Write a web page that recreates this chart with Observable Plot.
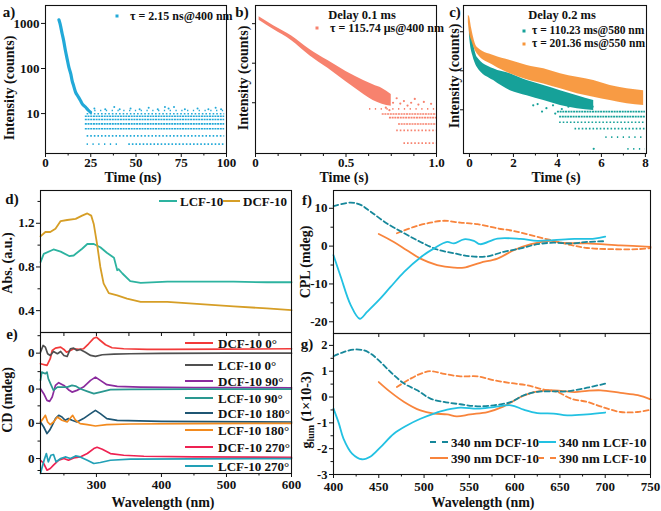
<!DOCTYPE html>
<html><head><meta charset="utf-8">
<script src="https://cdn.jsdelivr.net/npm/d3@7"></script>
<script src="https://cdn.jsdelivr.net/npm/@observablehq/plot@0.6"></script>
<style>
html,body{margin:0;padding:0;background:#fff;}
#fig{position:relative;width:661px;height:511px;overflow:hidden;font-family:"Liberation Serif","Times New Roman",serif;font-weight:bold;color:#111;background:#fff;}
.p{position:absolute;}
.p svg{overflow:visible;background:transparent;}
.t{position:absolute;white-space:nowrap;line-height:1;transform:translate(-50%,-50%);font-size:14px;}
.l{position:absolute;white-space:nowrap;line-height:1;transform:translate(0,-50%);font-size:13px;}
.r{transform:translate(-50%,-50%) rotate(-90deg);}
.sw{position:absolute;height:0;transform:translate(0,-50%);}
.dt{position:absolute;width:3px;height:3px;transform:translate(-50%,-50%);}
</style></head><body><div id="fig"></div><script>
// ---------- data: panel a ----------
const aDecayTime = [7.4, 8.0, 9.2, 10.0, 11.0, 12.0, 12.9, 14.0, 14.7, 15.5, 16.6, 18.0, 19.3, 20.5, 22.1, 23.5, 24.9];
const aDecayCounts = [1200, 1000, 590, 420, 250, 160, 107, 75, 54, 42, 30, 24, 19.5, 16, 14, 12, 10.7];
const aRowLevel = [11.7, 9.9, 8.7, 7.4, 5.9, 4.6, 3.2, 2.1, 2.1];
const aRowFrom = [24, 23, 22, 22, 22, 22, 23, 23, 46];
const aRowTo = [99, 99, 99, 99, 99, 99, 99, 42, 99];
const aRowDensity = ["sparse", "medium", "dense", "dense", "dense", "dense", "medium", "sparse", "medium"];
const aSparseTime = [27, 33, 38, 41, 47, 52, 57, 62, 66, 68, 71, 77, 84, 90, 94, 97];
const aSparseCounts = [13, 12.5, 14, 12.5, 13, 12.5, 13.5, 12.5, 14, 13, 14, 12.5, 13, 12.5, 13.5, 12.5];
// ---------- panel b ----------
const bBandTime = [0.02, 0.10, 0.20, 0.30, 0.40, 0.50, 0.60, 0.65, 0.70, 0.75];
const bBandLow = [1227, 710, 371, 155, 74, 34, 16, 11.4, 9.2, 8.2];
const bBandHigh = [1485, 890, 491, 223, 117, 62, 36, 28.4, 22.9, 16.2];
const bRowLevel = [7, 5.2, 4.2, 2.9, 2.0, 0.95];
const bRowFrom = [0.63, 0.70, 0.74, 0.79, 0.78, 0.82];
const bRowTo = [1.0, 1.0, 1.0, 1.0, 1.0, 1.0];
const bRowDensity = ["sparse", "dense", "dense", "dense", "medium", "medium"];
const bSparseTime = [0.76, 0.78, 0.80, 0.82, 0.84, 0.86, 0.88, 0.90, 0.93, 0.97, 0.72, 0.74];
const bSparseCounts = [10, 13, 9.5, 11, 8.5, 10, 12.5, 9, 10.5, 9.4, 7.5, 6.5];
// ---------- panel c ----------
const cOrangeTime = [-0.05, 0.0, 0.1, 0.35, 1.1, 1.86, 2.62, 3.38, 4.14, 4.9, 5.65, 6.4, 7.17, 7.92];
const cOrangeHigh = [2620, 2470, 1216, 403, 247, 184, 137, 112, 84, 68, 56, 42, 34.5, 31];
const cOrangeLow = [1730, 960, 598, 273, 137, 84, 59, 46, 34.5, 25.7, 21, 17.3, 14.3, 12.9];
const cTealTime = [0.0, 0.05, 0.15, 0.35, 1.1, 1.86, 2.62, 3.38, 4.14, 4.9, 5.65];
const cTealHigh = [1450, 1080, 598, 223, 112, 84, 56, 42, 31, 23, 17.3];
const cTealLow = [803, 445, 247, 124, 56, 31, 23, 17.3, 12.9, 10.6, 9.6];
const cRowLevel = [9, 6.7, 4.8, 3.3, 2.0, 1.0];
const cRowFrom = [4.0, 4.1, 4.1, 4.8, 6.2, 7.2];
const cRowTo = [8.0, 8.0, 8.0, 8.0, 8.0, 8.0];
const cRowDensity = ["dense", "dense", "medium", "medium", "sparse", "sparse"];
const cSparseTime = [3.1, 3.5, 3.8, 4.2, 4.5, 3.3, 5.6, 5.65, 2.9, 3.9];
const cSparseCounts = [14, 11, 13, 10.5, 12, 9, 12, 1, 13, 8];
// ---------- panel d ----------
const dDcfWave = [214, 221.5, 229, 237, 245, 255, 268, 278, 286, 292, 296, 301, 306, 311, 319, 332, 347, 368, 409, 460, 511, 562, 600];
const dDcfAbs = [1.08, 1.12, 1.12, 1.15, 1.22, 1.23, 1.24, 1.27, 1.29, 1.27, 1.19, 1.01, 0.80, 0.65, 0.56, 0.54, 0.51, 0.48, 0.48, 0.46, 0.44, 0.42, 0.405];
const dLcfWave = [214, 219, 234, 245, 258, 265, 278, 286, 296, 306, 316, 327, 332, 334, 340, 352, 368, 409, 511, 562, 600];
const dLcfAbs = [0.845, 0.92, 0.96, 0.94, 0.90, 0.905, 0.967, 1.01, 1.01, 0.98, 0.93, 0.885, 0.77, 0.78, 0.74, 0.67, 0.655, 0.665, 0.665, 0.66, 0.66];
// ---------- panel e ----------
const eOffsets = [0, -36, -70.3, -105.6];
const eNames = ["DCF-10 0°", "LCF-10 0°", "DCF-10 90°", "LCF-10 90°", "DCF-10 180°", "LCF-10 180°", "DCF-10 270°", "LCF-10 270°"];
const eColors = ["#f23a3a", "#505050", "#8b2c9e", "#2a9890", "#1f5673", "#f28a1e", "#ee2252", "#22a0b6"];
const eWaves = [
  [214,224,229,232,237,245,250,254,260,265,273,280,288,296,300,306,314,324,342,378,409,500,600],
  [214,218,221.5,225,229,234,240,245,250,255,260,265,270,275,283,291,298.5,309,327,352,400,500,600],
  [214,219,224,228,232,237,242,250,257,262.5,270,280,291,298.5,306,316,332,368,450,600],
  [214,216,221.5,224,226,230,234,240,247,255,262.5,268,275,286,296,306,321.5,352,450,600],
  [214,219,224,228,232,237,242,247,252,257,262.5,270,280,291,298.5,306,316,332,400,600],
  [214,218,221.5,225,229,234,240,247,255,260,263.5,268,275,286,298.5,316,352,450,600],
  [214,219,224,229,234,242,250,257,265,275,286,296,301,309,321.5,342,373,450,600],
  [214,216,219.5,223,226,230,234,238,245,252,260,268,275,286,296,306,321.5,352,450,600]
];
const eCD = [
  [-10.6,-12.3,-5.6,2.7,5,6,3.7,1,2.7,4.4,3.7,4.4,9.4,15,16,12.7,8.4,5.4,4.4,3.7,3.7,4.0,4.4],
  [1,7.7,6,-0.6,-2.3,1.7,-0.6,1.7,-2.3,-3.3,4.4,5,2.7,3.7,1,-2.3,-3.3,-1.6,-1,-0.6,-0.3,0,0],
  [0.4,-4.6,-11.3,-12.3,-8,3.7,6.4,3.7,-0.6,-3,-1.3,2,8.7,12,8.7,4.4,2.7,2,1.5,1.3],
  [8.7,17,15.4,17,10.4,4.4,-1.3,2,2,2,3.7,3,0.4,-2.3,-4.6,-3,-0.6,-0.3,0,0],
  [1.3,-3.7,-10.3,-7,-2,4.7,8,6.3,3,4.7,3,1.3,4.7,9.7,13,9.7,4.7,3,2,1.3],
  [1.3,4.7,8,1.3,-1.3,1.3,6.3,3,1.3,5.3,8,3,-0.3,-1.3,-2.7,-1.3,-0.7,-0.3,0],
  [-1.7,-5,-11.7,-10,-6.7,-1.7,0,-1.7,0.6,1.6,5,10,11.3,9.3,5,3.3,2.3,1.6,1.3],
  [-15,-10,-1.7,5,-3.4,3.3,4,-3.4,0,1.6,0,2.6,1.6,-1.7,-5,-4,-1.7,-0.6,-0.3,0]
];
// ---------- panel f ----------
const fDcf340Wave = [400,419,430,441,459,478,496,514.5,533,551,570,588,606.5,625,643,662,680,700];
const fDcf340CPL = [10.6,11.5,10.9,9.1,6,3.4,1.1,-0.9,-1.9,-2.7,-2.7,-1.5,-0.6,0.5,0.9,0.7,1.1,1.3];
const fLcf340Wave = [400,408,419,429,437,450,463,478,496,511,525.5,533,544,555,562,581,606.5,625,643,666,688,700];
const fLcf340CPL = [-2.4,-8.1,-15.6,-19.2,-17.4,-14.3,-10.8,-6.8,-3,-0.6,1.1,0.7,1.8,1.4,0.5,2,1.9,1.4,1.6,1.9,2,2.5];
const fDcf390Wave = [450,466.6,481,496,514.5,533,544,562,581,599,618,640,651,680,717,750];
const fDcf390CPL = [3.2,1.1,-1.1,-3.3,-5,-5.7,-5.7,-4.4,-3.3,-1.1,0.5,1.4,0.9,0.7,0.2,-0.2];
const fLcf390Wave = [470,489,507,522,540,559,581,599,621,643,662,680,706,736,750];
const fLcf390CPL = [3.4,5.1,6.2,6.7,6.2,5.8,4.7,4,2.7,1.4,0.3,-0.5,-0.8,-0.8,-0.5];
// ---------- panel g ----------
const gDcf340Wave = [400,411,422.5,433.5,441,450,463,478,492.5,507,522,540,559,577,596,610,625,643,658,680,700];
const gDcf340G = [1.58,1.74,1.84,1.81,1.68,1.42,0.97,0.52,0.26,-0.06,-0.19,-0.28,-0.36,-0.32,-0.19,0.07,0.2,0.22,0.22,0.36,0.52];
const gLcf340Wave = [400,406,411,420.5,431.5,441,452,466.6,481,496,511,525.5,540,559,577,596,610,625,643,658,680,700];
const gLcf340G = [-0.45,-1.03,-1.61,-2.19,-2.41,-2.3,-1.94,-1.42,-1.1,-0.84,-0.64,-0.49,-0.41,-0.45,-0.39,-0.32,-0.49,-0.62,-0.64,-0.71,-0.67,-0.6];
const gDcf390Wave = [450,463,478,496,511,525.5,536,551,570,588,606.5,621,636,651,666,680,695,717,736,750];
const gDcf390G = [0.58,0.19,-0.19,-0.52,-0.64,-0.67,-0.75,-0.67,-0.58,-0.36,0,0.19,0.26,0.24,0.19,0.24,0.26,0.16,0.07,-0.09];
const gLcf390Wave = [470,485,496,507,522,540,559,577,596,614,632,647,662,680,699,717,736,750];
const gLcf390G = [0.39,0.71,0.9,1.0,0.9,0.8,0.8,0.65,0.54,0.45,0.29,0.2,-0.06,-0.19,-0.41,-0.58,-0.58,-0.49];

// ---------- colours ----------
const A = "#22a9d8", B = "#f7826e", CT = "#16a199", CO = "#f8963a";
const D_L = "#2db3a0", D_D = "#d69e26";
const TEAL_D = "#16879a", CYAN = "#22c1e2", ORG = "#f8843c";

const fig = document.getElementById("fig");
const zip = (keys, ...cols) => cols[0].map((_, i) => Object.fromEntries(keys.map((k, j) => [k, cols[j][i]])));
const STYLE = {fontFamily: '"Liberation Serif", serif', fontSize: "13px", fontWeight: "bold", background: "transparent", overflow: "visible", color: "#111"};
function place(node, left, top) {
  const d = document.createElement("div"); d.className = "p";
  d.style.left = left + "px"; d.style.top = top + "px"; d.appendChild(node); fig.appendChild(d);
}
function text(s, x, y, opts = {}) {
  const d = document.createElement("div");
  d.className = opts.left ? "l" : ("t" + (opts.rot ? " r" : ""));
  d.style.left = x + "px"; d.style.top = y + "px";
  if (opts.size) d.style.fontSize = opts.size + "px";
  if (opts.html) d.innerHTML = s; else d.textContent = s;
  fig.appendChild(d);
}
function swatch(x1, x2, y, color, dashed) {
  const d = document.createElement("div"); d.className = "sw";
  d.style.left = x1 + "px"; d.style.top = y + "px"; d.style.width = (x2 - x1) + "px";
  d.style.borderTop = "2px " + (dashed ? "dashed " : "solid ") + color;
  fig.appendChild(d);
}
function dotKey(x, y, color) {
  const d = document.createElement("div"); d.className = "dt";
  d.style.left = x + "px"; d.style.top = y + "px"; d.style.background = color; fig.appendChild(d);
}
const dash = {dense: "2,0.7", medium: "1.6,2", sparse: "1.3,4.5"};
function rowMarks(rows, color) {
  return ["dense", "medium", "sparse"].map(k => Plot.ruleY(rows.filter(r => r.density === k),
    {y: "level", x1: "from", x2: "to", stroke: color, strokeWidth: 1.6, strokeDasharray: dash[k]}));
}
const noLab = () => "";
const num = d => String(d);
const frame = Plot.frame({stroke: "#111", strokeWidth: 1.1});

// ---------- panel a ----------
const aDecay = zip(["t", "c"], aDecayTime, aDecayCounts);
const aRows = zip(["level", "from", "to", "density"], aRowLevel, aRowFrom, aRowTo, aRowDensity);
const aSparse = zip(["t", "c"], aSparseTime, aSparseCounts);
place(Plot.plot({
  width: 232, height: 180, marginLeft: 45, marginRight: 6, marginTop: 5, marginBottom: 27, style: STYLE,
  x: {domain: [0, 100]}, y: {type: "log", domain: [1.3, 2500]},
  marks: [
    ...rowMarks(aRows, A),
    Plot.dot(aSparse, {x: "t", y: "c", r: 1, fill: A}),
    Plot.line(aDecay, {x: "t", y: "c", stroke: A, strokeWidth: 3.2, curve: "monotone-x"}),
    frame,
    Plot.axisX({ticks: [0, 25, 50, 75, 100], tickSize: 4, tickPadding: 0, label: null, tickFormat: num}),
    Plot.axisX({ticks: [12.5, 37.5, 62.5, 87.5], tickSize: 2.5, label: null, tickFormat: noLab}),
    Plot.axisY({ticks: [10, 100, 1000], tickSize: 4, tickPadding: 2, label: null, tickFormat: num})
  ]
}), 0, 0);

// ---------- panel b ----------
const bBand = zip(["t", "lo", "hi"], bBandTime, bBandLow, bBandHigh);
const bRows = zip(["level", "from", "to", "density"], bRowLevel, bRowFrom, bRowTo, bRowDensity);
const bSparse = zip(["t", "c"], bSparseTime, bSparseCounts);
place(Plot.plot({
  width: 210, height: 180, marginLeft: 23, marginRight: 6, marginTop: 5, marginBottom: 27, style: STYLE,
  x: {domain: [0, 1]}, y: {type: "log", domain: [0.52, 2880]},
  marks: [
    ...rowMarks(bRows, B),
    Plot.dot(bSparse, {x: "t", y: "c", r: 1.1, fill: B}),
    Plot.areaY(bBand, {x: "t", y1: "lo", y2: "hi", fill: B, curve: "monotone-x"}),
    frame,
    Plot.axisX({ticks: [0, 0.5, 1.0], tickSize: 4, tickPadding: 0, label: null, tickFormat: d => d === 0 ? "0" : d.toFixed(1)}),
    Plot.axisX({ticks: [0.125, 0.25, 0.375, 0.625, 0.75, 0.875], tickSize: 3, label: null, tickFormat: noLab}),
    Plot.axisY({ticks: [10, 100, 1000], tickSize: 3, label: null, tickFormat: noLab})
  ]
}), 232, 0);

// ---------- panel c ----------
const cOr = zip(["t", "lo", "hi"], cOrangeTime, cOrangeLow, cOrangeHigh);
const cTe = zip(["t", "lo", "hi"], cTealTime, cTealLow, cTealHigh);
const cRows = zip(["level", "from", "to", "density"], cRowLevel, cRowFrom, cRowTo, cRowDensity);
const cSparse = zip(["t", "c"], cSparseTime, cSparseCounts);
place(Plot.plot({
  width: 219, height: 180, marginLeft: 21, marginRight: 15, marginTop: 5, marginBottom: 27, style: STYLE,
  x: {domain: [-0.27, 8.05]}, y: {type: "log", domain: [0.76, 4700]},
  marks: [
    ...rowMarks(cRows, CT),
    Plot.dot(cSparse, {x: "t", y: "c", r: 1.1, fill: CT}),
    Plot.areaY(cTe, {x: "t", y1: "lo", y2: "hi", fill: CT, curve: "monotone-x"}),
    Plot.areaY(cOr, {x: "t", y1: "lo", y2: "hi", fill: CO, fillOpacity: 0.95, curve: "monotone-x"}),
    frame,
    Plot.axisX({ticks: [0, 2, 4, 6, 8], tickSize: 4, tickPadding: 0, label: null, tickFormat: num}),
    Plot.axisX({ticks: [1, 3, 5, 7], tickSize: 2.5, label: null, tickFormat: noLab}),
    Plot.axisY({ticks: [10, 100, 1000], tickSize: 3, label: null, tickFormat: noLab})
  ]
}), 442, 0);

// ---------- panel d ----------
const dD = zip(["w", "a"], dDcfWave, dDcfAbs);
const dL = zip(["w", "a"], dLcfWave, dLcfAbs);
place(Plot.plot({
  width: 300, height: 155, marginLeft: 40, marginRight: 9, marginTop: 10, marginBottom: 3, style: STYLE,
  x: {domain: [214, 600]}, y: {domain: [0.2, 1.5]},
  marks: [
    Plot.line(dL, {x: "w", y: "a", stroke: D_L, strokeWidth: 1.8}),
    Plot.line(dD, {x: "w", y: "a", stroke: D_D, strokeWidth: 1.8}),
    frame,
    Plot.axisX({ticks: [250, 300, 350, 400, 450, 500, 550], tickSize: 4, label: null, tickFormat: noLab}),
    Plot.axisY({ticks: [0.4, 0.8, 1.2], tickSize: 4, tickPadding: 2, label: null, tickFormat: d => d.toFixed(1)}),
    Plot.axisY({ticks: [0.6, 1.0, 1.4], tickSize: 2.5, label: null, tickFormat: noLab})
  ]
}), 0, 180);

// ---------- panel e ----------
const eLines = eWaves.flatMap((ws, k) => ws.map((w, i) => ({w, v: eCD[k][i] + eOffsets[Math.floor(k / 2)], s: eNames[k]})));
const eMinor = eOffsets.map(o => o + 17.5).concat([eOffsets[3] - 12]);
place(Plot.plot({
  width: 300, height: 186, marginLeft: 40, marginRight: 9, marginTop: 7, marginBottom: 38, style: STYLE,
  x: {domain: [214, 600]}, y: {domain: [-120.6, 20.7]},
  color: {domain: eNames, range: eColors},
  marks: [
    Plot.line(eLines, {x: "w", y: "v", z: "s", stroke: "s", strokeWidth: 1.7}),
    frame,
    Plot.axisX({ticks: [300, 400, 500, 600], tickSize: 4, tickPadding: 2, label: null, tickFormat: num}),
    Plot.axisX({ticks: [250, 350, 450, 550], tickSize: 2.5, label: null, tickFormat: noLab}),
    Plot.axisY({ticks: eOffsets, tickSize: 4, tickPadding: 2, label: null, tickFormat: () => "0"}),
    Plot.axisY({ticks: eMinor, tickSize: 2.5, label: null, tickFormat: noLab})
  ]
}), 0, 325);

// ---------- panel f ----------
const fMarks = [
  Plot.line(zip(["w", "v"], fLcf390Wave, fLcf390CPL), {x: "w", y: "v", stroke: ORG, strokeWidth: 1.8, strokeDasharray: "5,3", curve: "catmull-rom"}),
  Plot.line(zip(["w", "v"], fDcf390Wave, fDcf390CPL), {x: "w", y: "v", stroke: ORG, strokeWidth: 1.8, curve: "catmull-rom"}),
  Plot.line(zip(["w", "v"], fDcf340Wave, fDcf340CPL), {x: "w", y: "v", stroke: TEAL_D, strokeWidth: 1.8, strokeDasharray: "5,3", curve: "catmull-rom"}),
  Plot.line(zip(["w", "v"], fLcf340Wave, fLcf340CPL), {x: "w", y: "v", stroke: CYAN, strokeWidth: 1.8, curve: "catmull-rom"})
];
place(Plot.plot({
  width: 361, height: 155, marginLeft: 33, marginRight: 11, marginTop: 10, marginBottom: 2, style: STYLE,
  x: {domain: [400, 750]}, y: {domain: [-23.1, 14.7]},
  marks: [
    ...fMarks, frame,
    Plot.axisX({ticks: d3.range(400, 751, 50), tickSize: 4, label: null, tickFormat: noLab}),
    Plot.axisY({ticks: [10, 0, -10, -20], tickSize: 4, tickPadding: 2, label: null, tickFormat: num}),
    Plot.axisY({ticks: [5, -5, -15], tickSize: 2.5, label: null, tickFormat: noLab})
  ]
}), 300, 180);

// ---------- panel g ----------
const gMarks = [
  Plot.line(zip(["w", "v"], gLcf390Wave, gLcf390G), {x: "w", y: "v", stroke: ORG, strokeWidth: 1.8, strokeDasharray: "5,3", curve: "catmull-rom"}),
  Plot.line(zip(["w", "v"], gDcf390Wave, gDcf390G), {x: "w", y: "v", stroke: ORG, strokeWidth: 1.8, curve: "catmull-rom"}),
  Plot.line(zip(["w", "v"], gDcf340Wave, gDcf340G), {x: "w", y: "v", stroke: TEAL_D, strokeWidth: 1.8, strokeDasharray: "5,3", curve: "catmull-rom"}),
  Plot.line(zip(["w", "v"], gLcf340Wave, gLcf340G), {x: "w", y: "v", stroke: CYAN, strokeWidth: 1.8, curve: "catmull-rom"})
];
place(Plot.plot({
  width: 361, height: 186, marginLeft: 33, marginRight: 11, marginTop: 8, marginBottom: 37, style: STYLE,
  x: {domain: [400, 750]}, y: {domain: [-3, 2.46]},
  marks: [
    ...gMarks, frame,
    Plot.axisX({ticks: d3.range(400, 751, 50), tickSize: 4, tickPadding: 3, label: null, tickFormat: num}),
    Plot.axisX({ticks: d3.range(425, 751, 50), tickSize: 2.5, label: null, tickFormat: noLab}),
    Plot.axisY({ticks: [2, 1, 0, -1, -2, -3], tickSize: 4, tickPadding: 2, label: null, tickFormat: num, fontSize: 12.5}),
    Plot.axisY({ticks: [1.5, 0.5, -0.5, -1.5, -2.5], tickSize: 2.5, label: null, tickFormat: noLab})
  ]
}), 300, 325);

// ---------- text: panel letters ----------
text("a)", 9, 12, {size: 15}); text("b)", 242, 12, {size: 15}); text("c)", 455, 12, {size: 15});
text("d)", 12, 199, {size: 15}); text("e)", 12, 334, {size: 15});
text("f)", 307, 200, {size: 15}); text("g)", 307, 344, {size: 15});
// axis titles
text("Intensity (counts)", 10, 88, {rot: true}); text("Intensity (counts)", 244, 78, {rot: true}); text("Intensity (counts)", 455, 76, {rot: true});
text("Time (ns)", 133, 178); text("Time (s)", 344, 178); text("Time (s)", 556, 178);
text("Abs. (a.u.)", 8, 263, {rot: true}); text("CD (mdeg)", 8, 400, {rot: true});
text("Wavelength (nm)", 163, 503); text("Wavelength (nm)", 483, 503);
text("CPL (mdeg)", 306, 262, {rot: true});
text("g<sub style='font-size:10px'>lum</sub> (1×10-3)", 308, 410, {rot: true, html: true});
// legends a, b, c
dotKey(117, 16, A); text("τ = 2.15 ns@400 nm", 130, 16, {left: true, size: 12});
text("Delay 0.1 ms", 362, 15, {size: 12.5});
dotKey(317, 28, B); text("τ = 115.74 μs@400 nm", 330, 28, {left: true, size: 12});
text("Delay 0.2 ms", 562, 15, {size: 12.5});
dotKey(524, 30.5, CT); text("τ = 110.23 ms@580 nm", 532, 30.5, {left: true, size: 11.5});
dotKey(524, 43.5, CO); text("τ = 201.36 ms@550 nm", 532, 43.5, {left: true, size: 11.5});
// legend d
swatch(159, 177, 201, D_L); text("LCF-10", 180, 201, {left: true});
swatch(223, 240, 201, D_D); text("DCF-10", 243, 201, {left: true});
// legend e
const eLegY = [343, 365, 381, 398, 413, 430, 447, 466];
eNames.forEach((n, i) => { swatch(185, 213, eLegY[i], eColors[i]); text(n, 218, eLegY[i], {left: true}); });
// legend g
swatch(430, 448, 441.5, TEAL_D, true); text("340 nm DCF-10", 451, 441.5, {left: true});
swatch(538, 556, 441.5, CYAN); text("340 nm LCF-10", 559, 441.5, {left: true});
swatch(430, 448, 457.5, ORG); text("390 nm DCF-10", 451, 457.5, {left: true});
swatch(538, 556, 457.5, ORG, true); text("390 nm LCF-10", 559, 457.5, {left: true});
</script></body></html>
